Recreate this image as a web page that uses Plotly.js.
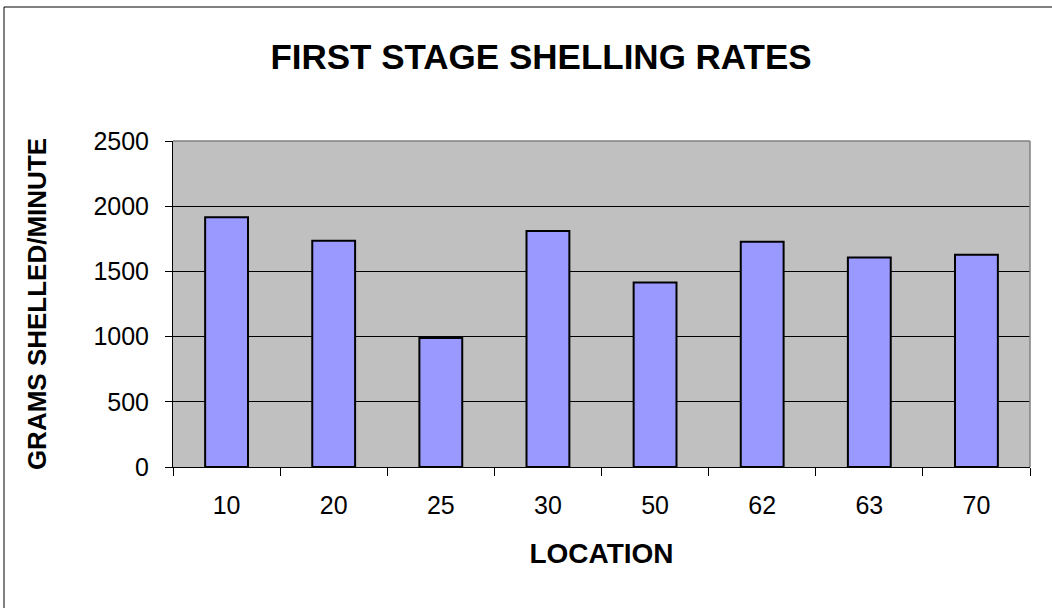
<!DOCTYPE html>
<html>
<head>
<meta charset="utf-8">
<script src="https://cdn.plot.ly/plotly-3.0.1.min.js"></script>
<style>html,body{margin:0;padding:0;background:#fff;}#chart{width:1052px;height:608px;}</style>
</head>
<body>
<div id="chart"></div>
<script>
const locations = ["10", "20", "25", "30", "50", "62", "63", "70"];
const gramsPerMinute = [1915, 1735, 990, 1810, 1415, 1727, 1607, 1628];
const yTicks = [0, 500, 1000, 1500, 2000, 2500];

const FONT = "Liberation Sans, Arial, sans-serif";
const L = 173, R = 22, T = 141, B = 141, W = 1052, H = 608;
const pw = W - L - R, ph = H - T - B;
// paper coords for outer frame (left edge x=4, top y=7)
const fx0 = (4 - L) / pw, fy1 = 1 + (T - 7) / ph;

const trace = {
  type: "bar",
  x: locations,
  y: gramsPerMinute,
  marker: { color: "#9999FF", line: { color: "#000000", width: 2 } },
  hoverinfo: "x+y"
};

const layout = {
  width: W, height: H,
  margin: { l: L, r: R, t: T, b: B },
  paper_bgcolor: "#FFFFFF",
  plot_bgcolor: "#C0C0C0",
  showlegend: false,
  bargap: 0.6,
  font: { family: FONT, color: "#000" },
  title: {
    text: "<b>FIRST STAGE SHELLING RATES</b>",
    font: { family: FONT, size: 35, color: "#000" },
    xref: "container", x: 541 / W, xanchor: "center",
    yref: "container", y: 1 - 57 / H, yanchor: "middle"
  },
  xaxis: {
    type: "category",
    tickvals: locations,
    ticktext: locations,
    tickson: "boundaries",
    ticks: "outside", ticklen: 8, tickcolor: "#000", tickwidth: 1,
    showline: true, linecolor: "#000", linewidth: 1,
    showgrid: false,
    tickfont: { family: FONT, size: 25, color: "#000" },
    ticklabelstandoff: 16,
    title: { text: "<b>LOCATION</b>", font: { family: FONT, size: 28, color: "#000" }, standoff: 25 },
    automargin: false
  },
  yaxis: {
    range: [0, 2500],
    tickvals: yTicks,
    ticks: "outside", ticklen: 7, tickcolor: "#000", tickwidth: 1,
    showline: true, linecolor: "#000", linewidth: 1,
    showgrid: true, gridcolor: "#000", gridwidth: 1,
    zeroline: false,
    tickfont: { family: FONT, size: 25, color: "#000" },
    ticklabelstandoff: 11,
    title: { text: "<b>GRAMS SHELLED/MINUTE</b>", font: { family: FONT, size: 26, color: "#000" }, standoff: 39 },
    automargin: false
  },
  shapes: [
    { type: "line", xref: "paper", yref: "paper", x0: 0, x1: 1, y0: 1, y1: 1, line: { color: "#808080", width: 1.5 } },
    { type: "line", xref: "paper", yref: "paper", x0: 1, x1: 1, y0: 0, y1: 1, line: { color: "#808080", width: 1.5 } },
    { type: "line", xref: "paper", yref: "paper", x0: fx0, x1: fx0, y0: -2, y1: fy1, line: { color: "#000", width: 1 } },
    { type: "line", xref: "paper", yref: "paper", x0: fx0, x1: 2, y0: fy1, y1: fy1, line: { color: "#000", width: 1 } }
  ]
};

Plotly.newPlot("chart", [trace], layout, { displayModeBar: false, staticPlot: true });
</script>
</body>
</html>
